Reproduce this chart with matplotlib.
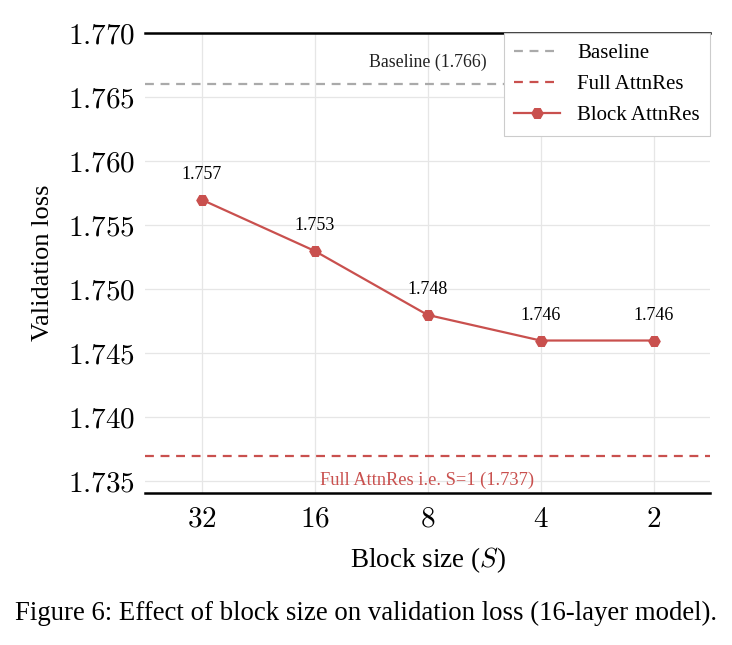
import matplotlib
matplotlib.use("Agg")
from matplotlib import pyplot as plt

# Data
# ----
block_sizes = ["32", "16", "8", "4", "2"]
block_loss = [1.757, 1.753, 1.748, 1.746, 1.746]
baseline_loss = 1.766
full_loss = 1.737
y_ticks = [1.735, 1.740, 1.745, 1.750, 1.755, 1.760, 1.765, 1.770]

red = "#c9504e"
gray = "#aaaaaa"

plt.rcParams["font.family"] = ["Liberation Serif", "DejaVu Serif"]
plt.rcParams["mathtext.fontset"] = "cm"

fig = plt.figure(figsize=(7.32, 6.45), dpi=100)
ax = fig.add_axes([145 / 732, 1 - 493 / 645, 565 / 732, 460 / 645])

x = list(range(len(block_sizes)))

ax.axhline(baseline_loss, color=gray, ls=(0, (4, 3)), lw=1.6, label="Baseline")
ax.axhline(full_loss, color=red, ls=(0, (4, 3)), lw=1.6, label="Full AttnRes")
ax.plot(x, block_loss, color=red, lw=1.6, marker="H", ms=8, label="Block AttnRes")

for xi, v in zip(x, block_loss):
    ax.annotate(f"{v:.3f}", (xi, v), xytext=(0, 12), textcoords="offset points",
                ha="center", va="bottom", fontsize=13)

ax.text(2, baseline_loss + 0.0010, f"Baseline ({baseline_loss:.3f})", ha="center",
        va="bottom", fontsize=12.8, color="#222222")
ax.text(2, 1.73512, f"Full AttnRes i.e. S=1 ({full_loss:.3f})", ha="center",
        va="center", fontsize=13.2, color=red)

# Stylizing
# ---------
ax.set_xlim(-0.5, len(block_sizes) - 0.5)
ax.set_ylim(1.7341, 1.770)
ax.set_xticks(x)
ax.set_xticklabels([f"${s}$" for s in block_sizes])
ax.set_yticks(y_ticks)
ax.set_yticklabels([f"${t:.3f}$" for t in y_ticks])
ax.tick_params(length=0, labelsize=21)
ax.tick_params(axis="x", pad=10)
ax.tick_params(axis="y", pad=7)
ax.grid(color="#e6e6e6", lw=0.9)
ax.set_axisbelow(True)
for side in ("left", "right"):
    ax.spines[side].set_visible(False)
for side in ("top", "bottom"):
    ax.spines[side].set_linewidth(1.8)
    ax.spines[side].set_color("black")

ax.set_xlabel("Block size ($S$)", fontsize=19.5, labelpad=9)
ax.set_ylabel("Validation loss", fontsize=19, labelpad=10)

leg = ax.legend(loc="upper right", fontsize=15, fancybox=False, framealpha=1,
                edgecolor="#cccccc", borderaxespad=0, handlelength=2.2,
                handletextpad=0.8, borderpad=0.5, labelspacing=0.55)
leg.get_frame().set_linewidth(0.8)

fig.text(0.5, 1 - 613 / 645, "Figure 6: Effect of block size on validation loss (16-layer model).",
         ha="center", va="center", fontsize=19.3)

fig.savefig("out.png", dpi=100)
